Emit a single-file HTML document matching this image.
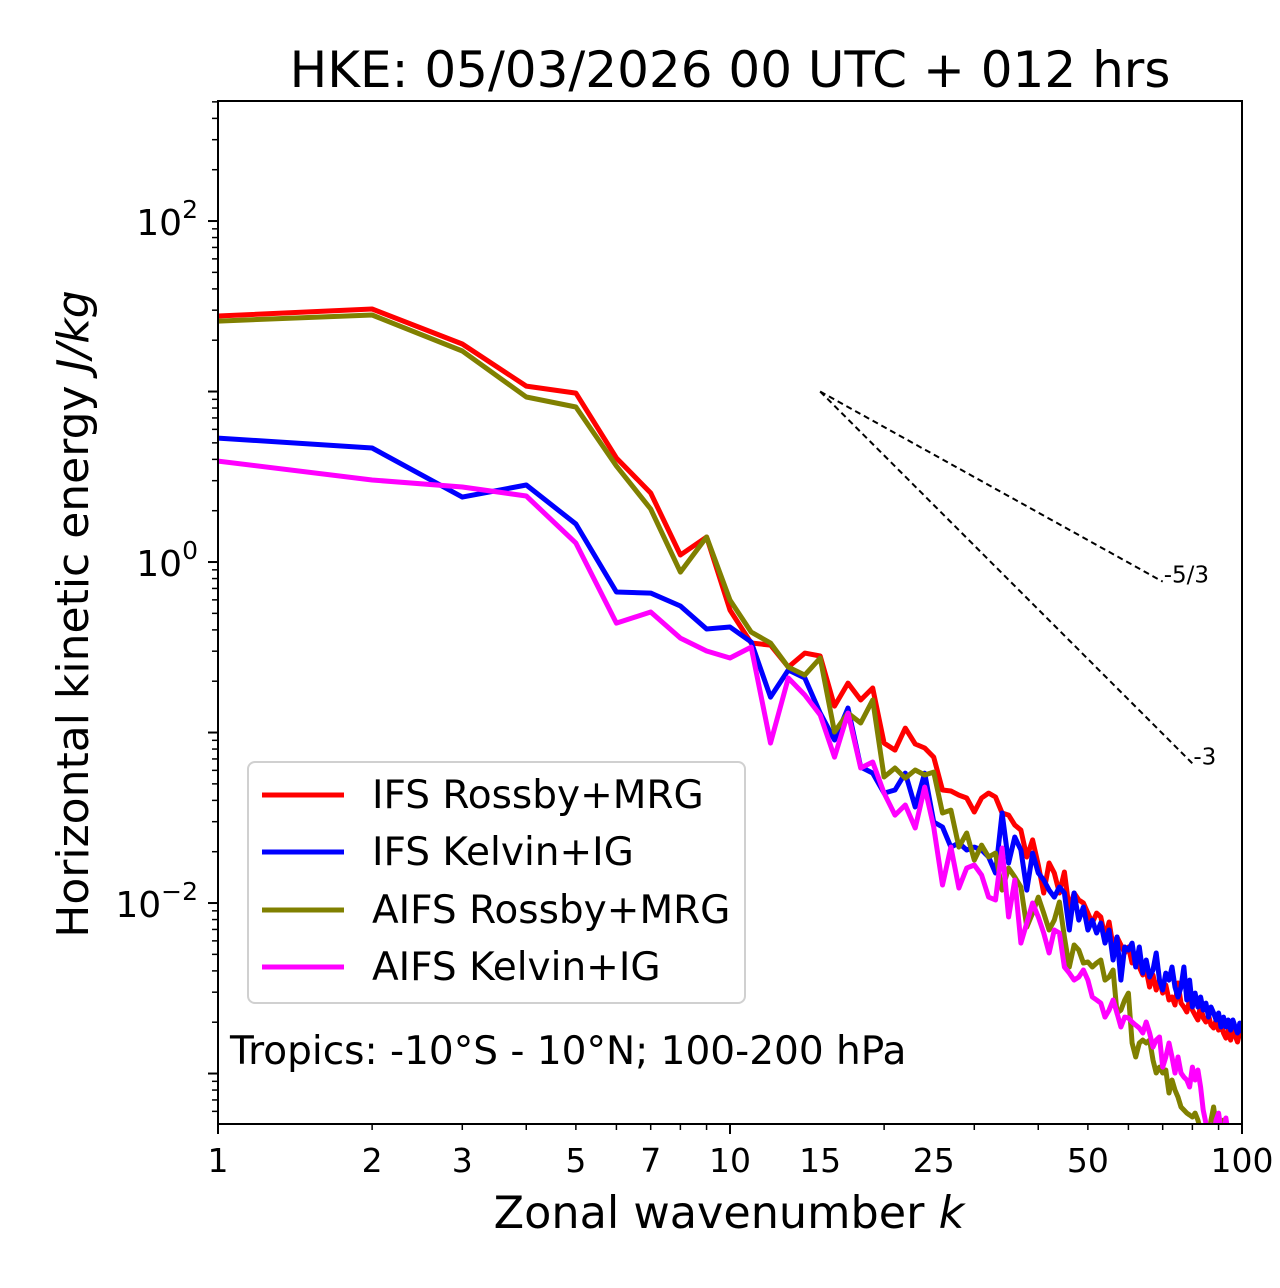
<!DOCTYPE html>
<html><head><meta charset="utf-8">
<style>
html,body{margin:0;padding:0;background:#fff;}
svg{display:block;font-family:"DejaVu Sans","Liberation Sans",sans-serif;}
</style></head>
<body>
<svg id="chart" width="1280" height="1288" viewBox="0 0 1280 1288" xmlns="http://www.w3.org/2000/svg">
<defs><clipPath id="plotclip"><rect x="218" y="101" width="1024" height="1023"/></clipPath></defs>
<rect width="1280" height="1288" fill="#fff"/>
<text x="730" y="87" font-size="50" text-anchor="middle">HKE: 05/03/2026 00 UTC + 012 hrs</text>
<g id="series" clip-path="url(#plotclip)"></g>
<g id="axes"></g>
<text transform="translate(88,614) rotate(-90)" font-size="44" text-anchor="middle">Horizontal kinetic energy <tspan font-style="italic">J/kg</tspan></text>
<text x="729" y="1228" font-size="44.5" text-anchor="middle">Zonal wavenumber <tspan font-style="italic">k</tspan></text>
<g>
<rect x="248" y="762" width="497" height="241" rx="7" fill="#fff" stroke="#d0d0d0" stroke-width="2"/>
<line x1="262" y1="795" x2="344" y2="795" stroke="#ff0000" stroke-width="5"/><text x="372" y="808" font-size="39">IFS Rossby+MRG</text>
<line x1="262" y1="852" x2="344" y2="852" stroke="#0000ff" stroke-width="5"/><text x="372" y="865" font-size="39">IFS Kelvin+IG</text>
<line x1="262" y1="910" x2="344" y2="910" stroke="#808000" stroke-width="5"/><text x="372" y="923" font-size="39">AIFS Rossby+MRG</text>
<line x1="262" y1="967" x2="344" y2="967" stroke="#ff00ff" stroke-width="5"/><text x="372" y="980" font-size="39">AIFS Kelvin+IG</text>
</g>
<text x="230" y="1064" font-size="39">Tropics: -10°S - 10°N; 100-200 hPa</text>
<rect x="218" y="101" width="1024" height="1023" fill="none" stroke="#000" stroke-width="2"/>
</svg>
<script>
// log10 of energy (J/kg) for k = 1..100
const ifsRossbyLog10 = [1.443,1.484,1.279,1.032,0.991,0.610,0.405,0.041,0.147,-0.282,-0.475,-0.487,-0.616,-0.534,-0.551,-0.845,-0.710,-0.809,-0.739,-1.062,-1.103,-0.974,-1.067,-1.091,-1.144,-1.337,-1.343,-1.367,-1.384,-1.466,-1.384,-1.355,-1.378,-1.472,-1.484,-1.543,-1.572,-1.730,-1.630,-1.777,-1.941,-1.765,-1.824,-1.941,-1.818,-2.041,-1.941,-1.982,-2.000,-2.059,-2.117,-2.059,-2.082,-2.199,-2.111,-2.258,-2.199,-2.246,-2.293,-2.258,-2.352,-2.323,-2.375,-2.422,-2.393,-2.493,-2.422,-2.510,-2.452,-2.528,-2.481,-2.569,-2.551,-2.598,-2.469,-2.587,-2.610,-2.639,-2.569,-2.628,-2.657,-2.686,-2.598,-2.674,-2.698,-2.657,-2.716,-2.733,-2.686,-2.745,-2.716,-2.762,-2.792,-2.745,-2.804,-2.733,-2.780,-2.815,-2.757,-2.792];
const ifsKelvinLog10 = [0.727,0.669,0.381,0.452,0.223,-0.176,-0.182,-0.258,-0.393,-0.381,-0.469,-0.792,-0.633,-0.680,-0.886,-1.044,-0.856,-1.202,-1.238,-1.355,-1.337,-1.238,-1.437,-1.238,-1.525,-1.554,-1.672,-1.648,-1.689,-1.672,-1.689,-1.730,-1.824,-1.472,-1.765,-1.613,-1.689,-1.924,-1.707,-1.824,-1.865,-1.924,-1.965,-1.906,-1.941,-2.158,-1.941,-2.100,-2.023,-2.158,-2.100,-2.176,-2.117,-2.235,-2.158,-2.334,-2.199,-2.452,-2.258,-2.276,-2.235,-2.375,-2.258,-2.411,-2.334,-2.434,-2.393,-2.293,-2.452,-2.510,-2.411,-2.452,-2.375,-2.493,-2.551,-2.493,-2.375,-2.569,-2.452,-2.610,-2.528,-2.610,-2.551,-2.628,-2.587,-2.669,-2.610,-2.645,-2.686,-2.645,-2.727,-2.669,-2.727,-2.686,-2.745,-2.686,-2.727,-2.762,-2.704,-2.762];
const aifsRossbyLog10 = [1.413,1.449,1.238,0.968,0.909,0.563,0.311,-0.059,0.147,-0.223,-0.411,-0.475,-0.616,-0.663,-0.563,-0.997,-0.886,-0.944,-0.809,-1.261,-1.208,-1.267,-1.220,-1.249,-1.232,-1.472,-1.455,-1.672,-1.589,-1.748,-1.660,-1.730,-1.707,-1.924,-1.795,-1.848,-1.906,-2.141,-2.059,-1.965,-2.059,-2.158,-2.100,-1.994,-2.199,-2.375,-2.246,-2.276,-2.352,-2.346,-2.375,-2.352,-2.334,-2.452,-2.434,-2.393,-2.645,-2.628,-2.569,-2.528,-2.821,-2.903,-2.821,-2.804,-2.821,-2.804,-2.921,-2.997,-2.962,-2.997,-2.979,-3.114,-3.038,-3.097,-3.138,-3.196,-3.214,-3.232,-3.243,-3.255,-3.232,-3.273,-3.331,-3.361,-3.320,-3.390,-3.273,-3.196,-3.302,-3.390,-3.419,-3.273,-3.331,-3.449,-3.478,-3.390,-3.449,-3.507,-3.537,-3.507];
const aifsKelvinLog10 = [0.592,0.481,0.440,0.387,0.111,-0.358,-0.293,-0.446,-0.522,-0.563,-0.499,-1.062,-0.680,-0.780,-0.897,-1.144,-0.886,-1.208,-1.173,-1.355,-1.484,-1.425,-1.560,-1.320,-1.554,-1.894,-1.672,-1.912,-1.795,-1.777,-1.836,-1.965,-1.982,-1.677,-2.082,-1.865,-2.235,-2.117,-2.000,-2.082,-2.176,-2.293,-2.158,-2.176,-2.375,-2.411,-2.452,-2.434,-2.393,-2.452,-2.551,-2.569,-2.587,-2.669,-2.628,-2.569,-2.645,-2.727,-2.669,-2.674,-2.698,-2.716,-2.733,-2.762,-2.698,-2.762,-2.845,-2.804,-2.786,-2.962,-2.903,-2.821,-2.903,-2.997,-2.903,-2.997,-3.021,-3.038,-3.079,-2.962,-3.038,-2.979,-3.079,-3.214,-3.290,-3.361,-3.302,-3.390,-3.273,-3.232,-3.331,-3.419,-3.261,-3.361,-3.449,-3.320,-3.390,-3.478,-3.361,-3.449];
const xTickValues = [1,2,3,5,7,10,15,25,50,100];
const xTickLabels = ["1","2","3","5","7","10","15","25","50","100"];
const yMajorExponents = [-2,0,2];
const refStartK = 15, refStartE = 10;
const refSlopes = [-5/3, -3];
const refEndK = [70, 80];
const refLabels = ["-5/3", "-3"];

const NS = "http://www.w3.org/2000/svg";
const X0 = 218, X1 = 1242, Y0 = 101, Y1 = 1124;
const logYmin = -3.296, logYmax = 2.704;
function xs(k){ return X0 + (X1 - X0) * Math.log10(k) / 2; }
function ysLog(l){ return Y1 - (Y1 - Y0) * (l - logYmin) / (logYmax - logYmin); }
function mk(tag, attrs, parent){ const e = document.createElementNS(NS, tag); for (const a in attrs) e.setAttribute(a, attrs[a]); parent.appendChild(e); return e; }

const series = document.getElementById('series');
const axes = document.getElementById('axes');
const defs = [
  {d: ifsRossbyLog10, c: '#ff0000', n: 'line-ifs-rossby-mrg'},
  {d: ifsKelvinLog10, c: '#0000ff', n: 'line-ifs-kelvin-ig'},
  {d: aifsRossbyLog10, c: '#808000', n: 'line-aifs-rossby-mrg'},
  {d: aifsKelvinLog10, c: '#ff00ff', n: 'line-aifs-kelvin-ig'}
];
defs.forEach(s => {
  const pts = s.d.map((v, i) => xs(i + 1).toFixed(1) + ',' + ysLog(v).toFixed(1)).join(' ');
  const pl = mk('polyline', {points: pts, fill: 'none', stroke: s.c, 'stroke-width': 5, 'stroke-linejoin': 'round'}, series);
  
  
});
refSlopes.forEach((m, i) => {
  const l0 = Math.log10(refStartE);
  const l1 = l0 + m * (Math.log10(refEndK[i]) - Math.log10(refStartK));
  const ln = mk('line', {x1: xs(refStartK), y1: ysLog(l0), x2: xs(refEndK[i]), y2: ysLog(l1), stroke: '#000', 'stroke-width': 2, 'stroke-dasharray': '6,4'}, series);
  
  
  const t = mk('text', {x: xs(refEndK[i]) + 1, y: ysLog(l1) + 1, 'font-size': 23}, axes);
  t.textContent = refLabels[i];
  
  
});
// x ticks
for (let d = 1; d <= 100; d *= 10) {
  for (let j = 1; j <= 9; j++) {
    const k = d * j; if (k > 100) break;
    const major = (j === 1);
    const tk = mk('line', {x1: xs(k), x2: xs(k), y1: Y1, y2: Y1 + (major ? 10 : 6), stroke: '#000', 'stroke-width': major ? 2 : 1.5}, axes);
    
    
  }
}
xTickValues.forEach((v, i) => {
  const t = mk('text', {x: xs(v), y: Y1 + 48, 'font-size': 33, 'text-anchor': 'middle'}, axes);
  t.textContent = xTickLabels[i];
  
  
});
// y ticks
for (let e = -4; e <= 3; e++) {
  for (let j = 1; j <= 9; j++) {
    const l = e + Math.log10(j);
    if (l < logYmin || l > logYmax) continue;
    const major = (j === 1);
    const tk = mk('line', {x1: X0, x2: X0 - (major ? 10 : 6), y1: ysLog(l), y2: ysLog(l), stroke: '#000', 'stroke-width': major ? 2 : 1.5}, axes);
    
    
  }
}
yMajorExponents.forEach(e => {
  const t = mk('text', {x: 198, y: ysLog(e) + 14, 'font-size': 36, 'text-anchor': 'end'}, axes);
  
  
  const a = mk('tspan', {}, t); a.textContent = '10';
  const b = mk('tspan', {dy: -17, 'font-size': 25}, t); b.textContent = (e < 0 ? '\u2212' : '') + Math.abs(e);
});
</script>
</body></html>
